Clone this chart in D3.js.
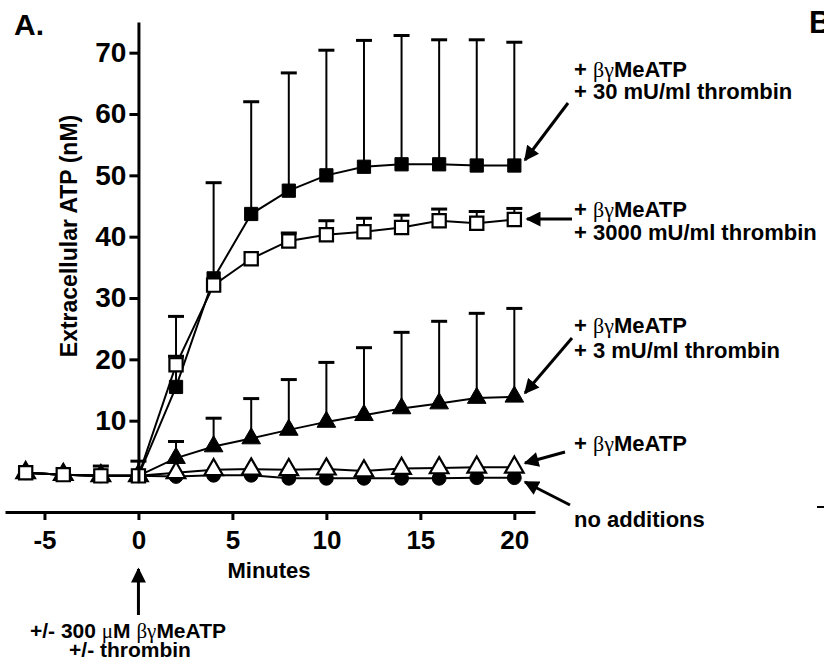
<!DOCTYPE html>
<html>
<head>
<meta charset="utf-8">
<script src="https://cdn.jsdelivr.net/npm/d3@7"></script>
<style>
  body { margin: 0; background: #fff; }
  svg { display: block; font-family: Arial, "Liberation Sans", sans-serif; }
</style>
</head>
<body>
<svg id="chart"></svg>
<script>
// time points (minutes)
const minutes = [-6, -4, -2, 0, 2, 4, 6, 8, 10, 12, 14, 16, 18, 20];

// extracellular ATP (nM) for each condition
const thr30 = [1.5, 1.2, 1.0, 1.0, 15.5, 33.2, 43.7, 47.5, 50.0, 51.4, 51.8, 51.8, 51.6, 51.6];
const thr30Err = [0, 0, 0, 2.4, 11.5, 15.6, 18.3, 19.2, 20.4, 20.6, 21.0, 20.3, 20.5, 20.1];
const thr3000 = [1.5, 1.2, 1.0, 1.0, 19.1, 32.1, 36.4, 39.3, 40.3, 40.8, 41.5, 42.6, 42.2, 42.8];
const thr3000Err = [0, 0, 1.6, 0, 1.4, 0, 0, 1.3, 2.3, 2.2, 2.0, 1.9, 1.9, 1.8];
const thr3 = [1.5, 1.2, 1.0, 1.0, 3.9, 5.8, 7.1, 8.5, 9.8, 10.9, 12.0, 12.8, 13.7, 13.9];
const thr3Err = [0, 0, 0, 0, 2.7, 4.6, 6.5, 8.2, 9.7, 11.0, 12.4, 13.4, 13.8, 14.4];
const bgOnly = [1.5, 1.2, 1.0, 1.0, 1.5, 2.0, 2.1, 2.0, 2.1, 1.8, 2.2, 2.3, 2.4, 2.4];
const noAdd = [1.5, 1.2, 1.0, 1.0, 0.9, 1.1, 1.1, 0.6, 0.6, 0.6, 0.6, 0.6, 0.7, 0.7];

const xTicks = [-5, 0, 5, 10, 15, 20];
const yTicks = [10, 20, 30, 40, 50, 60, 70];

const width = 824, height = 669;
const svg = d3.select("#chart").attr("width", width).attr("height", height);

const x = d3.scaleLinear().domain([-7.1, 21.1]).range([5, 535]);
const y = d3.scaleLinear().domain([0, 75]).range([482, 22]);

// series, drawn bottom to top
const series = [
  { vals: noAdd, err: null, shape: "circle", fill: "#000" },
  { vals: bgOnly, err: null, shape: "triangle", fill: "#fff" },
  { vals: thr3, err: thr3Err, shape: "triangle", fill: "#000" },
  { vals: thr30, err: thr30Err, shape: "square", fill: "#000" },
  { vals: thr3000, err: thr3000Err, shape: "square", fill: "#fff" }
];

const line = d3.line().x(d => x(d[0])).y(d => y(d[1]));

// connecting lines
series.forEach(s => {
  svg.append("path")
    .datum(minutes.map((m, i) => [m, s.vals[i]]))
    .attr("d", line)
    .attr("fill", "none")
    .attr("stroke", "#000")
    .attr("stroke-width", 2);
});

// error bars (upper only)
series.filter(s => s.err).forEach(s => {
  const pts = minutes.map((m, i) => ({ m: m, v: s.vals[i], e: s.err[i] })).filter(d => d.e > 0);
  const g = svg.append("g");
  g.selectAll("line.stem").data(pts).join("line")
    .attr("x1", d => x(d.m)).attr("x2", d => x(d.m))
    .attr("y1", d => y(d.v)).attr("y2", d => y(d.v + d.e))
    .attr("stroke", "#000").attr("stroke-width", 2);
  g.selectAll("line.cap").data(pts).join("line")
    .attr("x1", d => x(d.m) - 8).attr("x2", d => x(d.m) + 8)
    .attr("y1", d => y(d.v + d.e)).attr("y2", d => y(d.v + d.e))
    .attr("stroke", "#000").attr("stroke-width", 3);
});

// markers
const symbols = {
  circle: d3.symbol().type(d3.symbolCircle).size(150),
  triangle: d3.symbol().type(d3.symbolTriangle).size(150),
  square: d3.symbol().type(d3.symbolSquare).size(175)
};
series.forEach(s => {
  svg.append("g").selectAll("path")
    .data(minutes.map((m, i) => [m, s.vals[i]]))
    .join("path")
    .attr("d", symbols[s.shape])
    .attr("transform", d => "translate(" + x(d[0]) + "," + y(d[1]) + ")")
    .attr("fill", s.fill)
    .attr("stroke", "#000")
    .attr("stroke-width", s.fill === "#fff" ? 2.2 : 1);
});

// axes
const yAxis = svg.append("g")
  .attr("transform", "translate(" + x(0) + ",0)")
  .call(d3.axisLeft(y).tickValues(yTicks).tickSize(9).tickSizeOuter(0).tickPadding(3));
yAxis.selectAll("text").attr("font-size", 28).attr("font-weight", "bold").attr("fill", "#000");

const xAxis = svg.append("g")
  .attr("transform", "translate(0,512)")
  .call(d3.axisBottom(x).tickValues(xTicks).tickFormat(d => String(d)).tickSize(8).tickSizeOuter(0).tickPadding(11));
xAxis.selectAll("text").attr("font-size", 26).attr("font-weight", "bold").attr("fill", "#000");

svg.selectAll(".domain, .tick line").attr("stroke", "#000").attr("stroke-width", 3);
svg.selectAll(".tick text").attr("font-family", "Arial, 'Liberation Sans', sans-serif");

// axis titles
svg.append("text")
  .attr("transform", "translate(77,236) rotate(-90)")
  .attr("text-anchor", "middle")
  .attr("font-size", 23).attr("font-weight", "bold")
  .text("Extracellular ATP (nM)");

svg.append("text")
  .attr("x", 269).attr("y", 578)
  .attr("text-anchor", "middle")
  .attr("font-size", 22).attr("font-weight", "bold")
  .text("Minutes");

// panel letters
svg.append("text").attr("x", 14).attr("y", 35)
  .attr("font-size", 30).attr("font-weight", "bold").text("A.");
svg.append("text").attr("x", 809).attr("y", 33)
  .attr("font-size", 31).attr("font-weight", "bold").text("B");
svg.append("line").attr("x1", 817).attr("x2", 824).attr("y1", 507).attr("y2", 507)
  .attr("stroke", "#000").attr("stroke-width", 2);

// arrow head
svg.append("defs").append("marker")
  .attr("id", "head")
  .attr("viewBox", "0 0 10 10")
  .attr("refX", 9).attr("refY", 5)
  .attr("markerWidth", 5.2).attr("markerHeight", 5)
  .attr("markerUnits", "strokeWidth")
  .attr("orient", "auto")
  .append("path").attr("d", "M0,0L10,5L0,10Z").attr("fill", "#000");

function arrow(x1, y1, x2, y2) {
  svg.append("line")
    .attr("x1", x1).attr("y1", y1).attr("x2", x2).attr("y2", y2)
    .attr("stroke", "#000").attr("stroke-width", 3)
    .attr("marker-end", "url(#head)");
}

// labels with Greek letters in a serif face
function label(xp, yp, parts, size, anchor) {
  const t = svg.append("text")
    .attr("x", xp).attr("y", yp)
    .attr("font-size", size).attr("font-weight", "bold")
    .attr("text-anchor", anchor || "start");
  parts.forEach(p => {
    const ts = t.append("tspan").text(p.t);
    if (p.greek) ts.attr("font-family", "'Liberation Serif', 'Times New Roman', serif").attr("font-weight", "normal");
  });
}

const lx = 574;
const fs = 22;
label(lx, 77, [{ t: "+ " }, { t: "βγ", greek: true }, { t: "MeATP" }], fs);
label(lx, 99, [{ t: "+ 30 mU/ml thrombin" }], fs);
arrow(568, 103, 525, 160);

label(lx, 217, [{ t: "+ " }, { t: "βγ", greek: true }, { t: "MeATP" }], fs);
label(lx, 240, [{ t: "+ 3000 mU/ml thrombin" }], fs);
arrow(572, 219, 527, 219);

label(lx, 333, [{ t: "+ " }, { t: "βγ", greek: true }, { t: "MeATP" }], fs);
label(lx, 358, [{ t: "+ 3 mU/ml thrombin" }], fs);
arrow(572, 338, 525, 393);

label(lx, 451, [{ t: "+ " }, { t: "βγ", greek: true }, { t: "MeATP" }], fs);
arrow(565, 452, 525, 463);

label(lx, 527, [{ t: "no additions" }], fs);
arrow(570, 505, 525, 482);

// addition marker under t = 0
arrow(x(0), 615, x(0), 569);
label(128, 638, [{ t: "+/- 300 " }, { t: "μ", greek: true }, { t: "M " }, { t: "βγ", greek: true }, { t: "MeATP" }], 21, "middle");
label(130, 657, [{ t: "+/- thrombin" }], 21, "middle");
</script>
</body>
</html>
